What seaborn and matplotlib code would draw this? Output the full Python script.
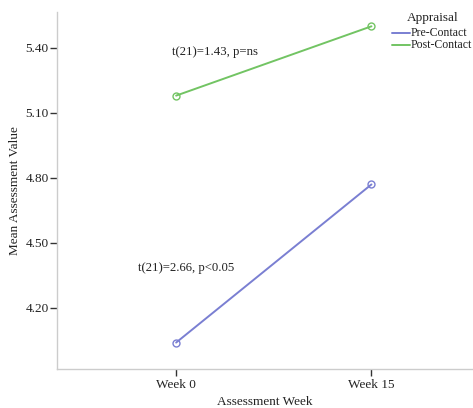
import matplotlib
matplotlib.use("Agg")
import matplotlib.pyplot as plt
import seaborn as sns
import pandas as pd

weeks = ["Week 0", "Week 15"]
pre_contact = [4.04, 4.77]
post_contact = [5.18, 5.50]
series_names = ["Pre-Contact", "Post-Contact"]
yticks = [4.20, 4.50, 4.80, 5.10, 5.40]

df = pd.DataFrame({
    "week": weeks * 2,
    "value": pre_contact + post_contact,
    "Appraisal": [series_names[0]] * 2 + [series_names[1]] * 2,
})

sns.set_style("white")
plt.rcParams["font.family"] = ["Liberation Serif", "DejaVu Serif"]
plt.rcParams["text.color"] = "#222222"
plt.rcParams["axes.labelcolor"] = "#222222"
plt.rcParams["xtick.color"] = "#222222"
plt.rcParams["ytick.color"] = "#222222"

fig = plt.figure(figsize=(4.73, 4.08), dpi=100)
ax = fig.add_axes([57 / 473, 1 - 369 / 408, (473 - 57) / 473, (369 - 12) / 408])

palette = {"Pre-Contact": "#7a7fd2", "Post-Contact": "#72c463"}
sns.lineplot(data=df, x="week", y="value", hue="Appraisal", palette=palette,
             marker="o", markersize=5, markerfacecolor="none",
             markeredgewidth=1.0, linewidth=1.4, ax=ax, legend=False)
for line, name in zip(ax.lines, series_names):
    line.set_markeredgecolor(palette[name])

ax.set_xlim(-0.61, 1.52)
ax.set_ylim(3.918, 5.566)
ax.set_yticks(yticks)
ax.set_yticklabels([f"{v:.2f}" for v in yticks], fontsize=9.5)
ax.set_xticks([0, 1])
ax.set_xticklabels(weeks, fontsize=9.5)
ax.tick_params(axis="y", direction="out", length=5, width=1, color="#333333", left=True, pad=1)
ax.tick_params(axis="x", direction="out", length=5, width=1, color="#333333", bottom=True, pad=2)
for s in ["top", "right"]:
    ax.spines[s].set_visible(False)
for s in ["left", "bottom"]:
    ax.spines[s].set_color("#cccccc")
    ax.spines[s].set_linewidth(1.0)

ax.set_xlabel("Assessment Week", fontsize=9.5, labelpad=4)
ax.set_ylabel("Mean Assessment Value", fontsize=9.5, labelpad=3)

ax.annotate("t(21)=1.43, p=ns", xy=(172 / 473, 1 - 52 / 408), xycoords="figure fraction",
            fontsize=9.2, va="center", ha="left")
ax.annotate("t(21)=2.66, p<0.05", xy=(138 / 473, 1 - 268 / 408), xycoords="figure fraction",
            fontsize=9.2, va="center", ha="left")

# legend
fig.text(407 / 473, 1 - 18 / 408, "Appraisal", fontsize=9.5, ha="left", va="center")
for i, name in enumerate(series_names):
    yy = 1 - (33 + i * 12) / 408
    fig.add_artist(plt.Line2D([392 / 473, 410 / 473], [yy, yy], color=palette[name], lw=1.4))
    fig.text(411 / 473, yy, name, fontsize=8.5, ha="left", va="center")

fig.savefig("out.png", dpi=100)
